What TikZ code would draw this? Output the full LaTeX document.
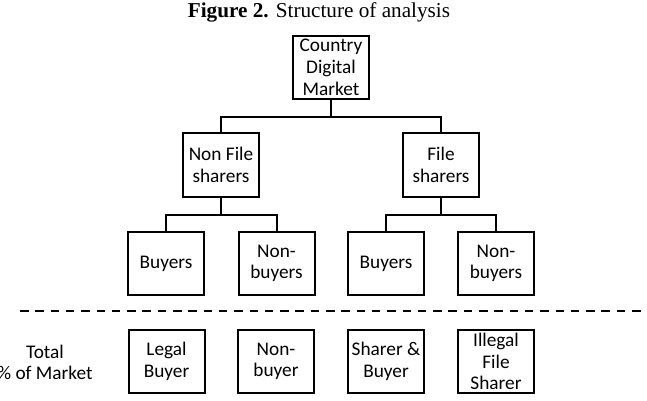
\documentclass[tikz,border=0pt]{standalone}
\usepackage{fontspec}
\setmainfont{Carlito}
\newfontfamily\titlefont{Liberation Serif}
\begin{document}
\begin{tikzpicture}[x=1pt,y=-1pt,
  box/.style={draw, line width=2pt, minimum width=76pt, minimum height=63pt,
    inner sep=0pt, align=center, font=\fontsize{19.3}{21.7}\selectfont},
  link/.style={line width=2pt},
  label/.style={align=center, font=\fontsize{19.3}{21.7}\selectfont}]
\useasboundingbox (0,0) rectangle (647,400);

% title
\node (title) at (319,12.5) {\titlefont\fontsize{21.2}{24}\selectfont\textbf{Figure 2.} Structure of analysis};

% tree
\node[box] (top) at (331,67.5) {Country\\Digital\\Market};
\node[box, minimum height=64pt] (nfs) at (221,165) {Non File\\sharers};
\node[box, minimum height=64pt] (fs)  at (441,165) {File\\sharers};

\node[box] (b1) at (166,263.5) {Buyers};
\node[box] (n1) at (276.5,263.5) {Non-\\buyers};
\node[box] (b2) at (386,263.5) {Buyers};
\node[box] (n2) at (496,263.5) {Non-\\buyers};

\draw[link] (top.south) -- ++(0,17) -| (nfs.north);
\draw[link] (top.south) -- ++(0,17) -| (fs.north);
\draw[link] (nfs.south) -- ++(0,17) -| (b1.north);
\draw[link] (nfs.south) -- ++(0,17) -| (n1.north);
\draw[link] (fs.south) -- ++(0,17) -| (b2.north);
\draw[link] (fs.south) -- ++(0,17) -| (n2.north);

% separator
\coordinate (sepL) at (20,311);
\coordinate (sepR) at (647,311);
\draw[line width=2pt, dash pattern=on 8.5pt off 6.8pt] (sepL) -- (sepR);

% totals row
\node[label] (total) at (45,362.5) {Total\\\% of Market};
\node[box] (lb) at (166.5,361.5) {Legal\\Buyer};
\node[box] (nb) at (276,361.5) {Non-\\buyer};
\node[box] (sb) at (386,361.5) {Sharer \&\\Buyer};
\node[box] (ifs) at (496,361.5) {Illegal\\File\\Sharer};
\end{tikzpicture}
\end{document}
